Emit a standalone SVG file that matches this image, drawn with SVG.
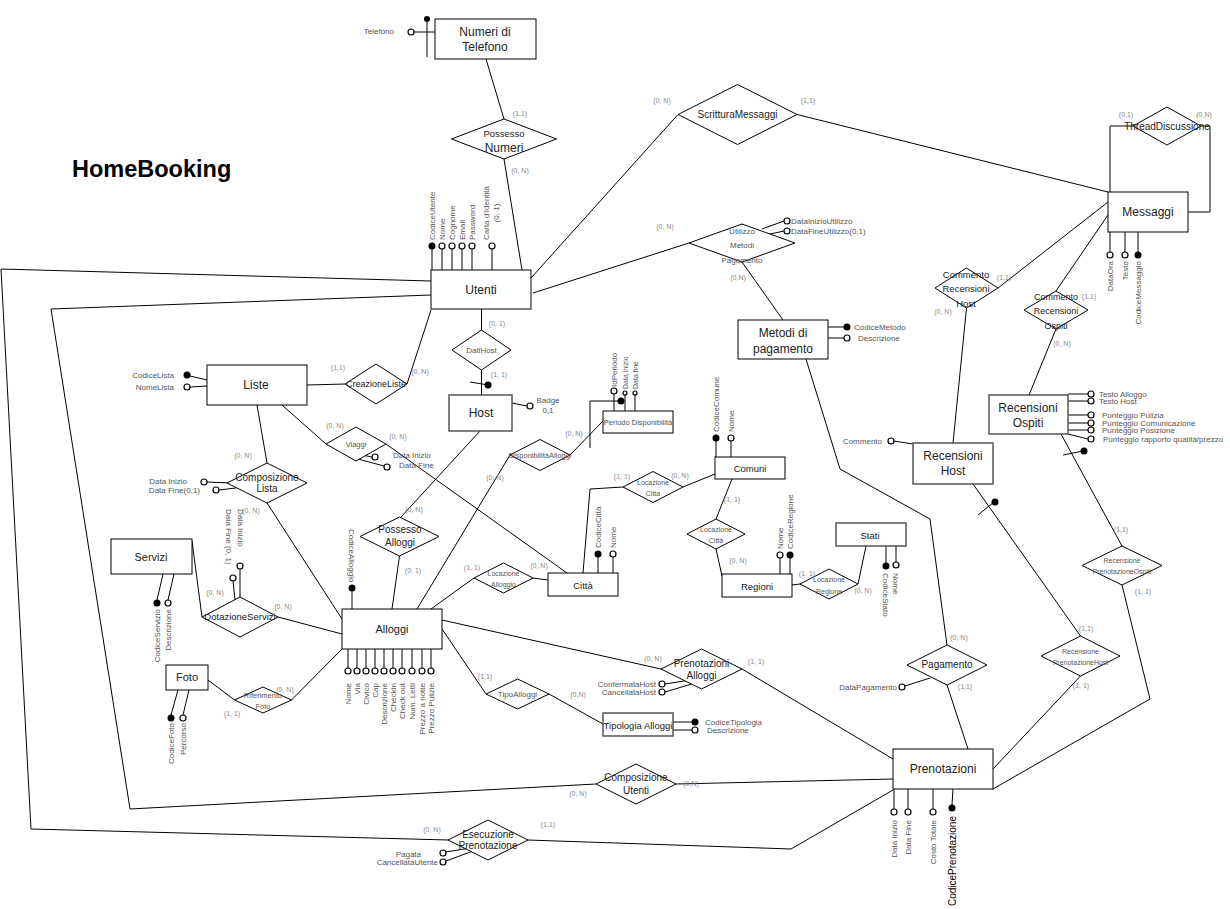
<svg xmlns="http://www.w3.org/2000/svg" width="1230" height="909" viewBox="0 0 1230 909">
<style>
text{font-family:"Liberation Sans",Arial,sans-serif}
.ln{stroke:#000;stroke-width:1;fill:none}
.ent{fill:#fff;stroke:#000;stroke-width:1}
.ent2{fill:#fff;stroke:#555;stroke-width:1.5}
.rel{fill:#fff;stroke:#000;stroke-width:1}
.op{fill:#fff;stroke:#000;stroke-width:1.2}
.fl{fill:#000}
.t{font-size:12px;fill:#222;text-anchor:middle}
.rt{font-size:10px;fill:#222;text-anchor:middle}
.rs{font-size:7.5px;fill:#555;text-anchor:middle}
.at{font-size:8px;fill:#555}
.ae{font-size:8px;fill:#555;text-anchor:end}
.cd{font-size:7px;fill:#888;text-anchor:middle}
</style>
<rect width="1230" height="909" fill="#fff"/>
<text x="72" y="177" style="font-size:23.5px;font-weight:bold;fill:#000">HomeBooking</text>

<g id="connectors" class="ln">
<line x1="486" y1="59" x2="504" y2="119"/>
<line x1="504" y1="159" x2="522" y2="270"/>
<line x1="531" y1="278" x2="678" y2="114.5"/>
<line x1="797" y1="114.5" x2="1108" y2="192"/>
<polyline points="1110,192 1110,126 1133,126"/>
<polyline points="1201,126 1210,126 1210,212 1188,212"/>
<line x1="533" y1="293" x2="689" y2="243"/>
<line x1="742" y1="262" x2="783" y2="320"/>
<polyline points="806,359 840,469 930,519 947,645"/>
<line x1="947" y1="685" x2="968" y2="749"/>
<line x1="1108" y1="202" x2="998" y2="288"/>
<line x1="966.5" y1="308" x2="953" y2="443"/>
<line x1="1108" y1="215" x2="1056" y2="291"/>
<line x1="1056" y1="329" x2="1029" y2="395"/>
<line x1="1061" y1="434" x2="1122" y2="546"/>
<polyline points="1122,585 1150,699 993,789"/>
<line x1="973" y1="484" x2="1080.5" y2="636"/>
<line x1="1080.5" y1="676" x2="993" y2="769"/>
<polyline points="431,281 1,269 31,829 448,840"/>
<polyline points="431,295 51,309 130,809 596,784"/>
<line x1="676" y1="784" x2="893" y2="779"/>
<polyline points="528,840 791,849 893,790"/>
<line x1="431" y1="310" x2="407" y2="384"/>
<line x1="307" y1="385" x2="345" y2="384"/>
<line x1="481.5" y1="309" x2="481.5" y2="330"/>
<line x1="481.5" y1="370" x2="481.5" y2="395"/>
<line x1="480" y1="431" x2="401" y2="517"/>
<line x1="399.5" y1="556" x2="392" y2="609"/>
<line x1="257" y1="405" x2="267" y2="463"/>
<line x1="267" y1="503" x2="342" y2="619"/>
<line x1="282" y1="405" x2="326" y2="444"/>
<line x1="386" y1="444" x2="567" y2="573"/>
<line x1="192" y1="541" x2="202" y2="617"/>
<line x1="278" y1="617" x2="342" y2="634"/>
<line x1="208" y1="680" x2="234.5" y2="700"/>
<line x1="291.5" y1="700" x2="342" y2="649"/>
<line x1="417" y1="609" x2="510" y2="455"/>
<line x1="570" y1="455" x2="603" y2="421"/>
<polyline points="590,448 590,401 621,401"/>
<line x1="431" y1="609" x2="474" y2="578"/>
<line x1="533" y1="578" x2="548" y2="580"/>
<polyline points="583,573 590,489 623,487"/>
<line x1="683" y1="487" x2="715" y2="474"/>
<line x1="732" y1="479" x2="716" y2="519"/>
<line x1="716" y1="549" x2="722" y2="576"/>
<line x1="792" y1="585" x2="800" y2="584"/>
<line x1="858" y1="584" x2="866" y2="546"/>
<line x1="442" y1="629" x2="486" y2="694"/>
<line x1="549" y1="694" x2="603" y2="724"/>
<line x1="442" y1="620" x2="661" y2="669"/>
<line x1="742" y1="669" x2="893" y2="759"/>
<line x1="470" y1="382" x2="488" y2="385"/>
<line x1="1063" y1="455" x2="1083" y2="451"/>
<line x1="978" y1="515" x2="994" y2="502"/>
</g>
<g id="id-markers">
<circle class="fl" cx="621" cy="401" r="3.5"/>
<circle class="fl" cx="488" cy="385" r="3.5"/>
<circle class="fl" cx="1084" cy="451" r="3.5"/>
<circle class="fl" cx="995" cy="502" r="3.5"/>
</g>

<!-- Entities -->
<g id="numeri-telefono">
<rect class="ent" x="435" y="19" width="101" height="40"/>
<text class="t" x="485" y="36">Numeri di</text>
<text class="t" x="485" y="51">Telefono</text>
<line class="ln" x1="414" y1="32" x2="435" y2="32"/>
<line class="ln" x1="427" y1="19" x2="427" y2="57"/>
<circle class="fl" cx="427" cy="19" r="3"/>
<circle class="op" cx="411" cy="32" r="3"/>
<text class="ae" x="394" y="34">Telefono</text>
</g>

<g id="utenti">
<g class="ln">
<line x1="432" y1="270" x2="432" y2="249"/><line x1="442" y1="270" x2="442" y2="249"/>
<line x1="452" y1="270" x2="452" y2="249"/><line x1="462" y1="270" x2="462" y2="249"/>
<line x1="472" y1="270" x2="472" y2="249"/><line x1="492" y1="270" x2="492" y2="249"/>
</g>
<circle class="fl" cx="432" cy="246" r="3.5"/>
<circle class="op" cx="442" cy="246" r="3"/><circle class="op" cx="452" cy="246" r="3"/>
<circle class="op" cx="462" cy="246" r="3"/><circle class="op" cx="472" cy="246" r="3"/>
<circle class="op" cx="492" cy="246" r="3"/>
<text class="at" transform="translate(435,240) rotate(-90)">CodiceUtente</text>
<text class="at" transform="translate(445,240) rotate(-90)">Nome</text>
<text class="at" transform="translate(455,240) rotate(-90)">Cognome</text>
<text class="at" transform="translate(465,240) rotate(-90)">Email</text>
<text class="at" transform="translate(475,240) rotate(-90)">Password</text>
<text class="rs" style="font-size:8px" transform="translate(489,213) rotate(-90)">Carta d'Identità</text>
<text class="rs" style="font-size:8px" transform="translate(499,213) rotate(-90)">(0, 1)</text>
<rect class="ent" x="431" y="270" width="100" height="39"/>
<text class="t" x="481" y="294">Utenti</text>
</g>

<g id="messaggi">
<g class="ln">
<line x1="1110" y1="232" x2="1110" y2="252"/><line x1="1125" y1="232" x2="1125" y2="252"/>
<line x1="1138" y1="232" x2="1138" y2="252"/>
</g>
<circle class="op" cx="1110" cy="255" r="3"/><circle class="op" cx="1125" cy="255" r="3"/>
<circle class="fl" cx="1138" cy="255" r="3.5"/>
<text class="ae" transform="translate(1113,261) rotate(-90)">DataOra</text>
<text class="ae" transform="translate(1128,261) rotate(-90)">Testo</text>
<text class="ae" transform="translate(1141,261) rotate(-90)">CodiceMessaggio</text>
<rect class="ent" x="1108" y="192" width="80" height="40"/>
<text class="t" x="1148" y="216">Messaggi</text>
</g>

<g id="metodi-pagamento">
<line class="ln" x1="828" y1="327" x2="844" y2="327"/>
<line class="ln" x1="828" y1="338" x2="844" y2="338"/>
<circle class="fl" cx="847" cy="327" r="3.5"/>
<circle class="op" cx="847" cy="338" r="3"/>
<text class="at" x="854" y="330">CodiceMetodo</text>
<text class="at" x="858" y="341">Descrizione</text>
<rect class="ent" x="738" y="320" width="90" height="39"/>
<text class="t" x="783" y="337">Metodi di</text>
<text class="t" x="783" y="353">pagamento</text>
</g>

<g id="liste">
<line class="ln" x1="190" y1="376" x2="207" y2="380"/>
<line class="ln" x1="190" y1="387" x2="207" y2="386"/>
<circle class="fl" cx="187" cy="375" r="3.5"/>
<circle class="op" cx="187" cy="387" r="3"/>
<text class="ae" x="174" y="378">CodiceLista</text>
<text class="ae" x="174" y="390">NomeLista</text>
<rect class="ent" x="207" y="365" width="100" height="40"/>
<text class="t" x="256" y="389">Liste</text>
</g>

<g id="host">
<line class="ln" x1="512" y1="403" x2="527" y2="406"/>
<circle class="op" cx="530" cy="406" r="3"/>
<text class="rs" style="font-size:8px" x="548" y="403">Badge</text>
<text class="rs" style="font-size:8px" x="548" y="413">0,1</text>
<rect class="ent2" x="449" y="395" width="63" height="36"/>
<text class="t" x="481" y="417">Host</text>
</g>

<g id="periodo-disponibilita">
<line class="ln" x1="614" y1="411" x2="614" y2="394"/>
<line class="ln" x1="625" y1="411" x2="625" y2="395"/>
<line class="ln" x1="635" y1="411" x2="635" y2="395"/>
<circle class="op" cx="614" cy="391" r="3"/>
<circle class="op" cx="625" cy="393" r="2"/>
<circle class="op" cx="635" cy="393" r="2"/>
<text class="at" transform="translate(617,387) rotate(-90)">IdPeriodo</text>
<text class="at" style="font-size:7px" transform="translate(628,389) rotate(-90)">Data inizio</text>
<text class="at" style="font-size:7px" transform="translate(638,389) rotate(-90)">Data fine</text>
<rect class="ent" x="603" y="411" width="70" height="22"/>
<text class="rs" x="638" y="425">Periodo Disponibilità</text>
</g>

<g id="comuni">
<line class="ln" x1="716" y1="457" x2="716" y2="441"/>
<line class="ln" x1="731" y1="457" x2="731" y2="441"/>
<circle class="fl" cx="716" cy="438" r="3.5"/>
<circle class="op" cx="731" cy="438" r="3"/>
<text class="at" transform="translate(719,432) rotate(-90)">CodiceComune</text>
<text class="at" transform="translate(734,432) rotate(-90)">Nome</text>
<rect class="ent" x="715" y="457" width="70" height="22"/>
<text class="t" style="font-size:9.5px" x="750" y="472">Comuni</text>
</g>

<g id="citta">
<line class="ln" x1="598" y1="573" x2="598" y2="557"/>
<line class="ln" x1="613" y1="573" x2="613" y2="557"/>
<circle class="fl" cx="598" cy="554" r="3.5"/>
<circle class="op" cx="613" cy="554" r="3"/>
<text class="at" transform="translate(601,548) rotate(-90)">CodiceCittà</text>
<text class="at" transform="translate(616,548) rotate(-90)">Nome</text>
<rect class="ent" x="548" y="573" width="70" height="23"/>
<text class="t" style="font-size:9.5px" x="583" y="589">Città</text>
</g>

<g id="regioni">
<line class="ln" x1="780" y1="574" x2="780" y2="558"/>
<line class="ln" x1="790" y1="574" x2="790" y2="558"/>
<circle class="op" cx="780" cy="555" r="3"/>
<circle class="fl" cx="790" cy="555" r="3.5"/>
<text class="at" transform="translate(783,549) rotate(-90)">Nome</text>
<text class="at" transform="translate(793,549) rotate(-90)">CodiceRegione</text>
<rect class="ent" x="722" y="574" width="70" height="23"/>
<text class="t" style="font-size:9.5px" x="757" y="590">Regioni</text>
</g>

<g id="stati">
<line class="ln" x1="886" y1="546" x2="886" y2="563"/>
<line class="ln" x1="896" y1="546" x2="896" y2="562"/>
<circle class="fl" cx="886" cy="566" r="3.5"/>
<circle class="op" cx="896" cy="565" r="3"/>
<text class="at" transform="translate(883,573) rotate(90)">CodiceStato</text>
<text class="at" transform="translate(893,573) rotate(90)">Nome</text>
<rect class="ent2" x="836" y="523" width="70" height="23"/>
<text class="t" style="font-size:9.5px" x="870" y="539">Stati</text>
</g>

<g id="servizi">
<line class="ln" x1="163" y1="574" x2="157" y2="600"/>
<line class="ln" x1="174" y1="574" x2="168" y2="600"/>
<circle class="fl" cx="157" cy="603" r="3.5"/>
<circle class="op" cx="168" cy="603" r="3"/>
<text class="ae" transform="translate(160,609) rotate(-90)">CodiceServizio</text>
<text class="ae" transform="translate(171,609) rotate(-90)">Descrizione</text>
<rect class="ent" x="111" y="539" width="81" height="35"/>
<text class="t" style="font-size:11px" x="151" y="561">Servizi</text>
</g>

<g id="alloggi">
<line class="ln" x1="352" y1="591" x2="352" y2="609"/>
<circle class="fl" cx="352" cy="588" r="3.5"/>
<text class="at" transform="translate(349,529) rotate(90)">CodiceAlloggio</text>
<g class="ln">
<line x1="348" y1="649" x2="348" y2="668"/><line x1="357" y1="649" x2="357" y2="668"/>
<line x1="366" y1="649" x2="366" y2="668"/><line x1="375" y1="649" x2="375" y2="668"/>
<line x1="384" y1="649" x2="384" y2="668"/><line x1="393" y1="649" x2="393" y2="668"/>
<line x1="402" y1="649" x2="402" y2="668"/><line x1="412" y1="649" x2="412" y2="668"/>
<line x1="422" y1="649" x2="422" y2="668"/><line x1="431" y1="649" x2="431" y2="668"/>
</g>
<circle class="op" cx="348" cy="671" r="3"/><circle class="op" cx="357" cy="671" r="3"/>
<circle class="op" cx="366" cy="671" r="3"/><circle class="op" cx="375" cy="671" r="3"/>
<circle class="op" cx="384" cy="671" r="3"/><circle class="op" cx="393" cy="671" r="3"/>
<circle class="op" cx="402" cy="671" r="3"/><circle class="op" cx="412" cy="671" r="3"/>
<circle class="op" cx="422" cy="671" r="3"/><circle class="op" cx="431" cy="671" r="3"/>
<text class="ae" transform="translate(351,683) rotate(-90)">Nome</text>
<text class="ae" transform="translate(360,683) rotate(-90)">Via</text>
<text class="ae" transform="translate(369,683) rotate(-90)">Civico</text>
<text class="ae" transform="translate(378,683) rotate(-90)">Cap</text>
<text class="ae" transform="translate(387,683) rotate(-90)">Descrizione</text>
<text class="ae" transform="translate(396,683) rotate(-90)">Checkin</text>
<text class="ae" transform="translate(405,683) rotate(-90)">Check out</text>
<text class="ae" transform="translate(415,683) rotate(-90)">Num. Letti</text>
<text class="ae" transform="translate(425,683) rotate(-90)">Prezzo a notte</text>
<text class="ae" transform="translate(434,683) rotate(-90)">Prezzo Pulizie</text>
<rect class="ent" x="342" y="609" width="100" height="40"/>
<text class="t" style="font-size:11px" x="392" y="633">Alloggi</text>
</g>

<g id="foto">
<line class="ln" x1="178" y1="690" x2="171" y2="715"/>
<line class="ln" x1="189" y1="690" x2="183" y2="715"/>
<circle class="fl" cx="171" cy="718" r="3.5"/>
<circle class="op" cx="183" cy="718" r="3"/>
<text class="ae" transform="translate(174,723) rotate(-90)">CodiceFoto</text>
<text class="ae" transform="translate(186,723) rotate(-90)">Percorso</text>
<rect class="ent" x="166" y="665" width="42" height="25"/>
<text class="t" style="font-size:11px" x="187" y="681">Foto</text>
</g>

<g id="tipologia-alloggi">
<line class="ln" x1="673" y1="722" x2="692" y2="722"/>
<line class="ln" x1="673" y1="730" x2="692" y2="730"/>
<circle class="fl" cx="695" cy="722" r="3.5"/>
<circle class="op" cx="695" cy="730" r="3"/>
<text class="at" x="705" y="725">CodiceTipologia</text>
<text class="at" x="707" y="733">Descrizione</text>
<rect class="ent2" x="603" y="713" width="70" height="23"/>
<text class="t" style="font-size:9.5px" x="638" y="729">Tipologia Alloggi</text>
</g>

<g id="recensioni-ospiti">
<g class="ln">
<line x1="1068" y1="394" x2="1088" y2="394"/><line x1="1068" y1="401" x2="1088" y2="401"/>
<line x1="1068" y1="415" x2="1088" y2="415"/><line x1="1068" y1="423" x2="1088" y2="423"/>
<line x1="1068" y1="430" x2="1088" y2="430"/><line x1="1068" y1="434" x2="1088" y2="439"/>
</g>
<circle class="op" cx="1091" cy="394" r="3"/><circle class="op" cx="1091" cy="401" r="3"/>
<circle class="op" cx="1091" cy="415" r="3"/><circle class="op" cx="1091" cy="423" r="3"/>
<circle class="op" cx="1091" cy="430" r="3"/><circle class="op" cx="1091" cy="439" r="3"/>
<text class="at" x="1099" y="397">Testo Alloggo</text>
<text class="at" x="1099" y="404">Testo Host</text>
<text class="at" x="1102" y="418">Punteggio Pulizia</text>
<text class="at" x="1102" y="426">Punteggio Comunicazione</text>
<text class="at" x="1102" y="433">Punteggio Posizione</text>
<text class="at" x="1103" y="442">Punteggio rapporto qualità/prezzo</text>
<rect class="ent2" x="989" y="395" width="79" height="39"/>
<text class="t" x="1028" y="412">Recensioni</text>
<text class="t" x="1028" y="427">Ospiti</text>
</g>

<g id="recensioni-host">
<line class="ln" x1="894" y1="441" x2="913" y2="444"/>
<circle class="op" cx="891" cy="441" r="3"/>
<text class="ae" x="882" y="444">Commento</text>
<rect class="ent2" x="913" y="443" width="80" height="41"/>
<text class="t" x="953" y="460">Recensioni</text>
<text class="t" x="953" y="475">Host</text>
</g>

<g id="prenotazioni">
<g class="ln">
<line x1="894" y1="789" x2="894" y2="809"/><line x1="908" y1="789" x2="908" y2="809"/>
<line x1="933" y1="789" x2="933" y2="809"/><line x1="953" y1="789" x2="952" y2="805"/>
</g>
<circle class="op" cx="894" cy="812" r="3"/><circle class="op" cx="908" cy="812" r="3"/>
<circle class="op" cx="933" cy="812" r="3"/><circle class="fl" cx="952" cy="808" r="3.5"/>
<text class="ae" transform="translate(897,820) rotate(-90)">Data Inizio</text>
<text class="ae" transform="translate(911,820) rotate(-90)">Data Fine</text>
<text class="ae" transform="translate(936,820) rotate(-90)">Costo Totale</text>
<text style="font-size:10px;fill:#000;text-anchor:end" transform="translate(956,816) rotate(-90)">CodicePrenotazione</text>
<rect class="ent" x="893" y="749" width="100" height="40"/>
<text class="t" x="943" y="773">Prenotazioni</text>
</g>

<!-- Relationships -->
<g id="possesso-numeri">
<polygon class="rel" points="451.5,139 504,119 556.5,139 504,159"/>
<text class="rt" style="font-size:9.5px" x="504" y="137">Possesso</text>
<text class="t" x="504" y="152">Numeri</text>
</g>
<g id="scrittura-messaggi">
<polygon class="rel" points="678,114.5 737.5,84.5 797,114.5 737.5,144.5"/>
<text class="rt" x="737.5" y="118">ScritturaMessaggi</text>
</g>
<g id="thread-discussione">
<polygon class="rel" points="1133,126 1167,107 1201,126 1167,145"/>
<text class="rt" x="1167" y="130">ThreadDiscussione</text>
</g>
<g id="utilizzo-metodi-pagamento">
<line class="ln" x1="762" y1="229" x2="784" y2="221"/>
<line class="ln" x1="770" y1="234" x2="784" y2="231"/>
<polygon class="rel" points="689,243 742,224 795,243 742,262"/>
<circle class="op" cx="787" cy="221" r="3"/>
<circle class="op" cx="787" cy="231" r="3"/>
<text class="at" x="791" y="224">DataInizioUtilizzo</text>
<text class="at" x="791" y="234">DataFineUtilizzo(0,1)</text>
<text class="rs" style="font-size:8px" x="742" y="234">Utilizzo</text>
<text class="rs" style="font-size:8px" x="742" y="248">Metodi</text>
<text class="rs" style="font-size:8px" x="742" y="263">Pagamento</text>
</g>
<g id="dati-host">
<polygon class="rel" points="452,350 481.5,330 511,350 481.5,370"/>
<text class="rs" style="font-size:8px" x="481.5" y="353">DatiHost</text>
</g>
<g id="creazione-liste">
<polygon class="rel" points="345,384 376,364 407,384 376,404"/>
<text class="rt" style="font-size:9px" x="376" y="387">CreazioneListe</text>
</g>
<g id="viaggi">
<line class="ln" x1="362" y1="455" x2="372" y2="457"/>
<line class="ln" x1="358" y1="459" x2="384" y2="466"/>
<polygon class="rel" points="326,444 356,427 386,444 356,461"/>
<circle class="op" cx="375" cy="457" r="3"/>
<circle class="op" cx="387" cy="467" r="3"/>
<text class="at" x="393" y="458">Data Inizio</text>
<text class="at" x="399" y="468">Data Fine</text>
<text class="rs" x="356" y="447">Viaggi</text>
</g>
<g id="composizione-lista">
<line class="ln" x1="207" y1="482" x2="230" y2="483"/>
<line class="ln" x1="219" y1="490" x2="236" y2="488"/>
<polygon class="rel" points="227,483 267,463 307,483 267,503"/>
<circle class="op" cx="204" cy="482" r="3"/>
<circle class="op" cx="216" cy="490" r="3"/>
<text class="ae" x="187" y="484">Data Inizio</text>
<text class="ae" x="200" y="493">Data Fine(0,1)</text>
<text class="rt" x="267" y="481">Composizione</text>
<text class="rt" x="267" y="492">Lista</text>
</g>
<g id="dotazione-servizi">
<line class="ln" x1="240" y1="569" x2="240" y2="598"/>
<line class="ln" x1="233" y1="581" x2="235" y2="600"/>
<polygon class="rel" points="202,617 240,597 278,617 240,637"/>
<circle class="op" cx="240" cy="566" r="3"/>
<circle class="op" cx="233" cy="578" r="3"/>
<text class="at" transform="translate(238,509) rotate(90)">Data Inizio</text>
<text class="at" transform="translate(226,509) rotate(90)">Data Fine (0, 1)</text>
<text class="rt" style="font-size:9.5px" x="240" y="620">DotazioneServizi</text>
</g>
<g id="riferimento-foto">
<polygon class="rel" points="234.5,700 263,687 291.5,700 263,713"/>
<text class="rs" x="263" y="698">Riferimento</text>
<text class="rs" x="263" y="709">Foto</text>
</g>
<g id="possesso-alloggi">
<polygon class="rel" points="360,536.5 399.5,517 439,536.5 399.5,556"/>
<text class="rt" x="400" y="533">Possesso</text>
<text class="rt" x="400" y="546">Alloggi</text>
</g>
<g id="disponibilita-alloggi">
<polygon class="rel" points="510,455 540,439.5 570,455 540,470.5"/>
<text class="rs" x="540" y="458">DisponibilitàAlloggi</text>
</g>
<g id="locazione-alloggio">
<polygon class="rel" points="474,578 503.5,563 533,578 503.5,593"/>
<text class="rs" style="font-size:7px" x="503.5" y="576">Locazione</text>
<text class="rs" style="font-size:7px" x="503.5" y="587">Alloggio</text>
</g>
<g id="locazione-citta-comuni">
<polygon class="rel" points="623,487 653,471.5 683,487 653,502.5"/>
<text class="rs" style="font-size:7px" x="653" y="485">Locazione</text>
<text class="rs" style="font-size:7px" x="653" y="496">Citta</text>
</g>
<g id="locazione-citta-regioni">
<polygon class="rel" points="687,534 716,519 745,534 716,549"/>
<text class="rs" style="font-size:7px" x="716" y="532">Locazione</text>
<text class="rs" style="font-size:7px" x="716" y="543">Città</text>
</g>
<g id="locazione-regione">
<polygon class="rel" points="800,584 829,569 858,584 829,599"/>
<text class="rs" style="font-size:7px" x="829" y="582">Locazione</text>
<text class="rs" style="font-size:7px" x="829" y="594">Regione</text>
</g>
<g id="tipo-alloggi">
<polygon class="rel" points="486,694 517.5,679 549,694 517.5,709"/>
<text class="rs" style="font-size:8px" x="517.5" y="697">TipoAlloggi</text>
</g>
<g id="prenotazioni-alloggi">
<line class="ln" x1="665" y1="684" x2="690" y2="680"/>
<line class="ln" x1="665" y1="692" x2="695" y2="683"/>
<polygon class="rel" points="661,669 701.5,649 742,669 701.5,689"/>
<circle class="op" cx="662" cy="684" r="3"/>
<circle class="op" cx="662" cy="692" r="3"/>
<text class="ae" x="656" y="687">ConfermataHost</text>
<text class="ae" x="656" y="695">CancellataHost</text>
<text class="rt" x="701.5" y="667">Prenotazioni</text>
<text class="rt" x="701.5" y="679">Alloggi</text>
</g>
<g id="composizione-utenti">
<polygon class="rel" points="596,784 636,764 676,784 636,804"/>
<text class="rt" x="636" y="781">Composizione</text>
<text class="rt" x="636" y="794">Utenti</text>
</g>
<g id="esecuzione-prenotazione">
<line class="ln" x1="446" y1="852" x2="470" y2="848"/>
<line class="ln" x1="446" y1="861" x2="473" y2="851"/>
<polygon class="rel" points="448,840 488,820 528,840 488,860"/>
<circle class="op" cx="443" cy="853" r="3"/>
<circle class="op" cx="443" cy="862" r="3"/>
<text class="ae" x="421" y="857">Pagata</text>
<text class="ae" x="438" y="865">CancellataUtente</text>
<text class="rt" x="488" y="838">Esecuzione</text>
<text class="rt" x="488" y="849">Prenotazione</text>
</g>
<g id="pagamento">
<line class="ln" x1="905" y1="686" x2="930" y2="678"/>
<polygon class="rel" points="907,665 947,645 987,665 947,685"/>
<circle class="op" cx="902" cy="687" r="3"/>
<text class="ae" x="897" y="690">DataPagamento</text>
<text class="rt" x="947" y="668">Pagamento</text>
</g>
<g id="commento-recensioni-host">
<polygon class="rel" points="935,288 966.5,268 998,288 966.5,308"/>
<text class="rt" style="font-size:9.5px" x="966" y="278">Commento</text>
<text class="rt" style="font-size:9.5px" x="966" y="292">Recensioni</text>
<text class="rt" style="font-size:9.5px" x="966" y="307">Host</text>
</g>
<g id="commento-recensioni-ospiti">
<polygon class="rel" points="1024,310 1056,291 1088,310 1056,329"/>
<text class="rt" style="font-size:9px" x="1056" y="300">Commento</text>
<text class="rt" style="font-size:9px" x="1056" y="314">Recensioni</text>
<text class="rt" style="font-size:9px" x="1056" y="329">Ospiti</text>
</g>
<g id="recensione-prenotazione-ospiti">
<polygon class="rel" points="1082,565.5 1122,546 1162,565.5 1122,585"/>
<text class="rs" style="font-size:7px" x="1122" y="563">Recensione</text>
<text class="rs" style="font-size:7px" x="1122" y="574">PrenotazioneOspiti</text>
</g>
<g id="recensione-prenotazione-host">
<polygon class="rel" points="1041,656 1080.5,636 1120,656 1080.5,676"/>
<text class="rs" style="font-size:7px" x="1080.5" y="654">Recensione</text>
<text class="rs" style="font-size:7px" x="1080.5" y="665">PrenotazioneHost</text>
</g>

<g id="cardinalities">
<text class="cd" x="520" y="116">(1,1)</text>
<text class="cd" x="520" y="173">(0, N)</text>
<text class="cd" x="662" y="103">(0, N)</text>
<text class="cd" x="808" y="103">(1,1)</text>
<text class="cd" x="1126" y="117">(0,1)</text>
<text class="cd" x="1204" y="117">(0,N)</text>
<text class="cd" x="665" y="229">(0, N)</text>
<text class="cd" x="738" y="280">(0,N)</text>
<text class="cd" x="1004" y="280">(1,1)</text>
<text class="cd" x="943" y="314">(0, N)</text>
<text class="cd" x="1089" y="299">(1,1)</text>
<text class="cd" x="1062" y="346">(0, N)</text>
<text class="cd" x="1121" y="532">(1,1)</text>
<text class="cd" x="1143" y="594">(1, 1)</text>
<text class="cd" x="1086" y="631">(1,1)</text>
<text class="cd" x="1081" y="688">(1, 1)</text>
<text class="cd" x="959" y="640">(0, N)</text>
<text class="cd" x="965" y="689">(1,1)</text>
<text class="cd" x="338" y="370">(1,1)</text>
<text class="cd" x="420" y="374">(0, N)</text>
<text class="cd" x="497" y="326">(0, 1)</text>
<text class="cd" x="499" y="377">(1, 1)</text>
<text class="cd" x="335" y="428">(0, N)</text>
<text class="cd" x="398" y="439">(0, N)</text>
<text class="cd" x="243" y="458">(0, N)</text>
<text class="cd" x="251" y="513">(0, N)</text>
<text class="cd" x="215" y="595">(0, N)</text>
<text class="cd" x="283" y="609">(0, N)</text>
<text class="cd" x="232" y="716">(1, 1)</text>
<text class="cd" x="285" y="692">(0, N)</text>
<text class="cd" x="414" y="512">(0, N)</text>
<text class="cd" x="413" y="573">(0, 1)</text>
<text class="cd" x="495" y="480">(0, N)</text>
<text class="cd" x="574" y="436">(0, N)</text>
<text class="cd" x="472" y="570">(1, 1)</text>
<text class="cd" x="539" y="568">(0, N)</text>
<text class="cd" x="622" y="479">(1, 1)</text>
<text class="cd" x="680" y="478">(0, N)</text>
<text class="cd" x="732" y="502">(1, 1)</text>
<text class="cd" x="738" y="563">(0, N)</text>
<text class="cd" x="807" y="576">(1, 1)</text>
<text class="cd" x="863" y="593">(0, N)</text>
<text class="cd" x="485" y="679">(1,1)</text>
<text class="cd" x="578" y="697">(0,N)</text>
<text class="cd" x="653" y="661">(0, N)</text>
<text class="cd" x="756" y="664">(1, 1)</text>
<text class="cd" x="578" y="796">(0, N)</text>
<text class="cd" x="691" y="786">(0,N)</text>
<text class="cd" x="432" y="832">(0, N)</text>
<text class="cd" x="548" y="827">(1,1)</text>
</g>
</svg>
